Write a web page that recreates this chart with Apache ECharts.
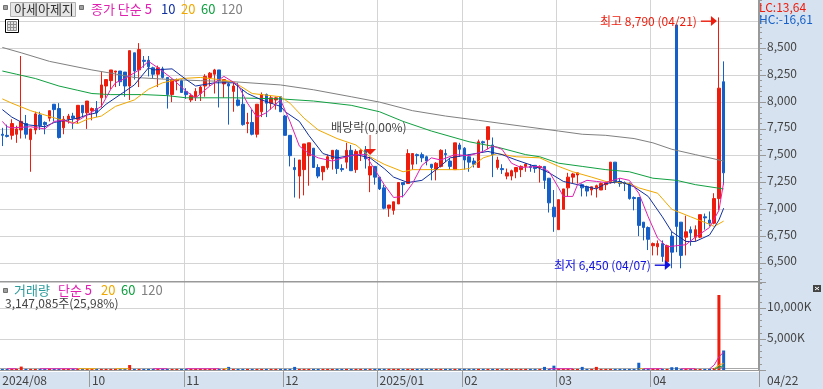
<!DOCTYPE html>
<html><head><meta charset="utf-8">
<style>html,body{margin:0;padding:0;background:#fff}#c{width:823px;height:389px}</style>
<script src="https://cdn.jsdelivr.net/npm/echarts@6/dist/echarts.min.js"></script>
</head><body><div id="c"></div>
<script>
// [open, close, low, high]
const ohlc = [
[7700,7690,7590,7760],[7690,7680,7670,7790],[7690,7800,7650,7840],[7700,7750,7620,7780],[7740,7820,7660,8430],
[7800,7700,7660,7880],[7650,7750,7350,7750],[7740,7890,7700,7910],[7880,7780,7740,7910],[7810,7790,7700,7820],
[7850,7920,7820,7920],[7980,7930,7820,7980],[7940,7670,7660,7990],[7760,7840,7700,7870],[7840,7870,7800,7890],
[7870,7850,7750,7900],[7840,7970,7800,7970],[7970,7900,7860,7970],[7900,8010,7750,8010],[7920,7940,7830,7950],
[7940,7900,7860,8010],[8040,8160,7950,8280],[8150,8210,8040,8210],[8200,8300,8120,8300],[8280,8290,8140,8290],
[8290,8190,8150,8290],[8280,8150,8050,8280],[8150,8480,8020,8480],[8460,8290,8210,8460],[8300,8490,8140,8550],
[8390,8380,8320,8430],[8390,8330,8240,8430],[8320,8260,8220,8330],[8260,8320,8140,8340],[8310,8230,8220,8330],
[8230,8070,7940,8230],[8070,8210,8000,8220],[8200,8210,8110,8220],[8200,8090,8090,8210],[8100,8070,8030,8130],
[8020,8060,8000,8080],[8050,8100,8010,8130],[8080,8140,8010,8150],[8150,8240,8050,8260],[8230,8270,8150,8280],
[8260,8300,8080,8310],[8300,8200,7950,8300],[8170,8210,8040,8210],[8170,8150,7790,8180],[8100,8150,7910,8180],
[8020,7970,7960,8180],[7980,7790,7780,8120],[7800,7810,7710,7900],[7810,7700,7690,7930],[7700,7980,7670,7980],
[7910,8070,7860,8090],[8070,7990,7860,8080],[7990,8040,7930,8060],[8020,8040,7930,8050],[8050,7910,7910,8050],
[7870,7690,7690,7880],[7690,7500,7400,7690],[7390,7370,7110,7480],[7310,7460,7100,7460],[7370,7610,7130,7610],
[7500,7620,7220,7620],[7570,7390,7390,7570],[7390,7310,7290,7420],[7350,7400,7270,7400],[7390,7490,7370,7510],
[7470,7550,7370,7550],[7550,7380,7330,7560],[7380,7370,7350,7420],[7440,7550,7380,7620],[7550,7360,7360,7600],
[7370,7540,7340,7560],[7520,7550,7450,7560],[7550,7470,7380,7590],[7320,7400,7160,7490],[7400,7300,7230,7400],
[7300,7190,7180,7300],[7200,7010,7000,7230],[7010,7040,6930,7040],[6990,7070,6950,7070],[7050,7250,7050,7250],
[7250,7230,7110,7250],[7240,7520,7240,7560],[7420,7520,7370,7520],[7510,7500,7420,7520],[7510,7480,7440,7530],
[7490,7450,7410,7500],[7420,7390,7270,7420],[7370,7430,7270,7440],[7400,7550,7390,7560],[7520,7510,7440,7560],
[7450,7400,7370,7480],[7370,7620,7370,7620],[7600,7560,7490,7620],[7570,7460,7370,7580],[7490,7440,7350,7510],
[7450,7420,7390,7480],[7390,7630,7390,7650],[7630,7620,7530,7640],[7650,7770,7560,7770],[7600,7510,7300,7670],
[7390,7460,7370,7490],[7380,7370,7330,7420],[7310,7340,7280,7380],[7310,7360,7270,7370],[7350,7390,7290,7390],
[7370,7400,7300,7410],[7400,7420,7350,7430],[7400,7390,7350,7420],[7410,7380,7340,7410],[7390,7400,7250,7410],
[7400,7270,7190,7400],[7290,7060,6970,7290],[7020,6930,6790,7180],[6810,7090,6810,7090],[7000,7190,7000,7190],
[7200,7300,7120,7340],[7300,7330,7240,7340],[7320,7340,7240,7340],[7230,7200,7120,7240],[7210,7170,7120,7220],
[7180,7210,7130,7210],[7200,7220,7110,7230],[7180,7240,7180,7250],[7230,7250,7180,7260],[7250,7440,7240,7440],
[7440,7260,7240,7440],[7260,7240,7210,7290],[7250,7240,7170,7260],[7240,7100,7090,7250],[7110,7100,6990,7120],
[7110,6850,6750,7110],[6880,6830,6710,6880],[6830,6720,6620,6840],[6660,6680,6570,6690],[6650,6680,6570,6710],
[6680,6560,6510,6710],[6510,6660,6460,6670],[6750,6600,6450,6790],[8720,6840,6600,8720],[6880,6570,6450,6880],
[6740,6790,6570,6940],[6810,6780,6660,6840],[6740,6810,6700,6850],[6740,6950,6730,6950],[6930,6920,6810,6960],
[6900,6870,6840,6980],[6870,7100,6860,7150],[7100,8130,6990,8790],[8190,7340,7230,8380]
];
// moving averages: [candle index, price]
const ma5 = [[0,7820],[1,7770],[2,7760],[6,7770],[9,7750],[11,7820],[13,7830],[15,7800],[18,7880],[21,7960],[23,8120],[24,8180],[26,8220],[29,8300],[31,8380],[33,8320],[36,8220],[39,8100],[41,8040],[44,8150],[47,8240],[50,8160],[52,7990],[54,7860],[56,7900],[59,8020],[61,7820],[63,7590],[65,7520],[67,7480],[70,7450],[73,7490],[75,7510],[77,7510],[79,7370],[81,7230],[83,7110],[85,7120],[87,7240],[89,7410],[91,7480],[93,7460],[96,7510],[99,7500],[102,7540],[104,7590],[106,7560],[108,7430],[110,7390],[114,7400],[116,7350],[118,7200],[119,7120],[121,7120],[122,7230],[124,7270],[126,7260],[128,7250],[131,7290],[133,7270],[135,7150],[137,6930],[139,6730],[141,6650],[145,6670],[147,6740],[150,6830],[152,6990],[153,7250]];
const ma10 = [[0,7930],[2,7860],[5,7790],[9,7770],[11,7810],[16,7850],[18,7880],[20,7900],[22,7980],[26,8100],[28,8160],[31,8320],[32,8300],[36,8310],[39,8210],[41,8150],[45,8180],[49,8180],[52,8080],[55,8020],[59,7960],[60,7910],[63,7820],[65,7690],[68,7520],[71,7480],[75,7510],[78,7480],[81,7380],[83,7300],[86,7250],[89,7270],[92,7370],[95,7480],[99,7510],[103,7540],[106,7510],[109,7460],[113,7400],[114,7380],[116,7340],[119,7260],[121,7240],[123,7220],[126,7190],[128,7240],[131,7260],[134,7210],[137,7120],[140,6930],[142,6790],[145,6700],[147,6700],[150,6760],[152,6900],[153,7010]];
const ma20 = [[0,8030],[2,7990],[6,7920],[9,7880],[12,7840],[14,7820],[16,7800],[18,7840],[21,7870],[24,7960],[28,8020],[31,8120],[34,8180],[38,8220],[42,8230],[46,8210],[49,8190],[53,8080],[59,8050],[61,7990],[64,7850],[67,7740],[71,7660],[75,7600],[78,7490],[81,7420],[85,7350],[87,7370],[92,7370],[97,7370],[99,7380],[102,7480],[105,7520],[109,7490],[114,7480],[118,7400],[121,7350],[125,7300],[128,7260],[133,7240],[135,7200],[139,7150],[142,7000],[146,6930],[150,6860],[151,6840],[153,6890]];
const ma60 = [[0,8290],[3,8260],[7,8220],[12,8150],[16,8110],[19,8080],[23,8070],[30,8070],[35,8060],[39,8040],[49,8040],[59,8030],[66,8010],[74,7970],[80,7910],[85,7820],[91,7730],[99,7630],[105,7580],[111,7510],[114,7490],[118,7430],[123,7400],[128,7370],[133,7350],[138,7290],[143,7270],[147,7230],[153,7190]];
const ma120 = [[0,8510],[4,8460],[10,8380],[19,8300],[23,8270],[28,8230],[36,8210],[42,8200],[49,8190],[59,8160],[66,8115],[74,8050],[80,8000],[87,7920],[94,7870],[101,7830],[106,7800],[118,7730],[123,7700],[128,7690],[134,7660],[138,7620],[142,7560],[147,7510],[153,7450]];
// volume in thousands of shares; the smallest bars are only a pixel tall in the picture
const volume = [
170,170,170,170,550,170,170,170,170,170,170,170,170,170,170,170,170,170,170,170,
170,170,170,170,170,170,170,800,170,170,170,170,170,170,170,170,170,170,170,170,
170,170,170,170,170,170,170,170,500,170,170,170,170,170,170,170,170,170,170,170,
170,170,500,170,170,170,170,170,170,170,170,170,170,170,170,170,170,170,170,170,
170,170,170,170,170,170,170,170,170,170,170,170,170,170,170,170,170,170,170,170,
170,170,170,170,170,170,170,170,170,170,170,170,170,170,170,500,170,700,170,170,
170,170,170,500,170,170,500,170,170,170,170,170,170,170,170,1170,170,170,170,170,
170,170,450,450,170,170,170,170,170,170,170,300,12100,3147];
// volume averages: only the stretches that show above the bars
const volMa5 = [[1,200],[3,200],[4,null],[8,200],[16,200],[17,null],[32,200],[35,200],[36,null],[39,200],[46,200],[47,null],[116,200],[121,200],[122,null],[136,200],[140,200],[141,null],[144,200],[147,200],[148,null],[150,180],[151,800],[152,2130],[153,2880]];
const volMa20 = [[16,200],[20,200],[21,null],[24,200],[27,200],[28,null],[47,200],[48,200],[49,null],[135,200],[136,200],[137,null],[145,210],[146,210],[147,null],[151,240],[152,790],[153,1070]];
const volMa60 = [[151,200],[152,500],[153,690]];
const volMa120 = [[151,190],[152,300],[153,450]];
// x axis: band index -> label
const monthIndex = [0,19,39,60,80,98,118,138];
const monthLabel = ['2024/08','10','11','12','2025/01','02','03','04'];
const priceLabels = [6500,6750,7000,7250,7500,7750,8000,8250,8500];
const volumeLabels = [5000,10000];
const bandCount = 161;

const RED='#ee1c0c',BLUE='#1560c8',MAG='#e020b0',NAVY='#1030a0',ORG='#f0a800',GRN='#10a040',GRY='#808080';
const FONT='"Noto Sans CJK KR"';
const cats = Array.from({length:bandCount},(_,i)=>String(i));
const isMonth = i=>monthIndex.indexOf(i)>=0;
const isSep = i=>i>0&&isMonth(i);
const comma = v=>String(v).replace(/\B(?=(\d{3})+$)/g,',');
const richLabel = {a:{color:'#444',fontSize:12,fontFamily:FONT,padding:[0,0,4,0]}};

function xAxisCfg(grid,extra){return Object.assign({type:'category',gridIndex:grid,data:cats,boundaryGap:true,
  axisLine:{show:false},axisTick:{show:false},axisLabel:{show:false},
  splitLine:{show:true,interval:(i)=>isSep(i),lineStyle:{color:'#d4d4d4',width:1},showMinLine:false,showMaxLine:false}},extra||{});}
function line(name,data,color,x,y,z){return {name,type:'line',data,xAxisIndex:x,yAxisIndex:y,showSymbol:false,symbol:'none',
  lineStyle:{color,width:1},itemStyle:{color},z:z||3,animation:false,clip:false,silent:true};}

const option={animation:false,backgroundColor:'#fff',
 grid:[{left:0,top:-5.1,width:759,height:294.8,outerBoundsMode:'none'},{left:0,top:282,width:759,height:88,outerBoundsMode:'none'}],
 xAxis:[xAxisCfg(0),xAxisCfg(1,{offset:2,axisLine:{show:true,lineStyle:{color:'#999',width:1}},
   axisTick:{show:true,interval:(i)=>isSep(i),length:17,lineStyle:{color:'#999',width:1}},
   axisLabel:{show:true,interval:(i)=>isMonth(i),margin:2,align:'left',color:'#444',fontSize:12,fontFamily:FONT,
     formatter:(v,i)=>monthLabel[monthIndex.indexOf(+v)]||''}})],
 yAxis:[
  {type:'value',gridIndex:0,position:'right',min:6250,max:9000,interval:250,z:0,
   axisLine:{show:true,lineStyle:{color:'#999',width:2}},
   axisTick:{show:true,length:7,lineStyle:{color:'#999'}},
   minorTick:{show:true,splitNumber:5,length:3,lineStyle:{color:'#999'}},
   axisLabel:{show:true,margin:8,rich:richLabel,customValues:priceLabels,formatter:v=>'{a|'+comma(v)+'}'},
   splitLine:{show:true,showMinLine:false,showMaxLine:false,lineStyle:{color:'#d4d4d4',width:1}}},
  {type:'value',gridIndex:1,position:'right',min:0,max:14200,interval:5000,z:3,
   axisLine:{show:true,lineStyle:{color:'#999',width:2}},
   axisTick:{show:true,length:7,lineStyle:{color:'#999'}},
   minorTick:{show:true,splitNumber:5,length:3,lineStyle:{color:'#999'}},
   axisLabel:{show:true,margin:8,rich:richLabel,customValues:volumeLabels,formatter:v=>'{a|'+comma(v)+'K}'},
   splitLine:{show:true,showMinLine:false,showMaxLine:false,lineStyle:{color:'#d4d4d4',width:1}}}
 ],
 series:[
  {name:'price',type:'candlestick',data:ohlc,xAxisIndex:0,yAxisIndex:0,barWidth:3,z:2,clip:false,silent:true,
   itemStyle:{color:RED,color0:BLUE,borderColor:RED,borderColor0:BLUE,borderWidth:1}},
  line('MA120',ma120,GRY,0,0),line('MA60',ma60,GRN,0,0),line('MA20',ma20,ORG,0,0),line('MA10',ma10,NAVY,0,0),line('MA5',ma5,MAG,0,0),
  {name:'volume',type:'bar',data:volume.map((v,i)=>({value:v,itemStyle:{color:ohlc[i][1]>=ohlc[i][0]?RED:BLUE}})),
   xAxisIndex:1,yAxisIndex:1,barWidth:3,z:4,silent:true},
  line('vMA120',volMa120,GRY,1,1,5),line('vMA60',volMa60,GRN,1,1,5),line('vMA20',volMa20,ORG,1,1,5),line('vMA5',volMa5,MAG,1,1,5)
 ]};

const chart=echarts.init(document.getElementById('c'),null,{renderer:'canvas'});
chart.setOption(option);

function txt(x,y,text,fill,size,align){return {type:'text',z:20,silent:true,style:{x,y,text,fill,font:(size||12)+'px '+FONT,verticalAlign:'middle',align:align||'left'}};}
function rect(x,y,w,h,fill,z,stroke){return {type:'rect',z:z==null?20:z,silent:true,shape:{x,y,width:w,height:h},style:{fill,stroke:stroke||null,lineWidth:1}};}
function seg(x1,y1,x2,y2,c){return {type:'line',z:21,silent:true,shape:{x1,y1,x2,y2},style:{stroke:c,lineWidth:1}};}
function arrow(tipX,y,color){return [
  rect(tipX-16,y-0.5,12,1.4,color),
  {type:'polygon',z:20,silent:true,shape:{points:[[tipX,y],[tipX-6,y-5],[tipX-6,y+5]]},style:{fill:color}}];}
const hi=chart.convertToPixel({gridIndex:0},[152,8790]);
const lo=chart.convertToPixel({gridIndex:0},[142,6450]);
const dv=chart.convertToPixel({gridIndex:0},[78,7500]);
const graphic=[
 rect(759,0,64,389,'#d6e2f0',-5),
 rect(0,372,823,17,'#d6e2f0',-5),
 rect(760,282,63,90,'#d6e2f0',1),
 rect(0,281,759,1.6,'#999'),
 rect(0,368,759,1,'#a8a8a8',1),
 // header
 rect(3.5,5.5,4,4,'#a0a0a0',20,'#707070'),
 rect(10.5,2.5,65,14,'#e6e6e6',20,'#b0b0b0'),
 txt(14,9,'아세아제지','#333',13),
 rect(79.5,5.5,4,4,'#a0a0a0',20,'#707070'),
 txt(91,9,'종가 단순 5',MAG,13),txt(161,9,'10',NAVY,13),txt(181,9,'20',ORG,13),txt(201,9,'60',GRN,13),txt(221,9,'120',GRY,13),
 rect(5.5,19.5,13,13,'#fff',20,'#000'),
 rect(7.5,21.5,9,9,'#e0e0e0',20,'#909090'),
 rect(10.5,21.5,3,9,'none',20,'#909090'),
 rect(7.5,24.5,9,3,'none',20,'#909090'),
 // right panel texts
 txt(759,7,'LC:13,64',RED,12),txt(759,19,'HC:-16,61',BLUE,12),
 txt(767,380,'04/22','#444'),
 rect(813,285,8,7,'#444'),seg(815,287,819,290,'#fff'),seg(815,290,819,287,'#fff'),
 // annotations
 txt(hi[0]-22,21,'최고 8,790 (04/21)',RED,12,'right'),
 ...arrow(hi[0]-2,21,RED),
 txt(lo[0]-21,265,'최저 6,450 (04/07)','#1010e0',12,'right'),
 ...arrow(lo[0]-1,265,'#1010e0'),
 txt(dv[0]-39,127,'배당락(0,00%)','#444'),
 rect(dv[0]-0.5,135,1,15,RED),
 {type:'polygon',z:20,silent:true,shape:{points:[[dv[0]-6,149],[dv[0]+6,149],[dv[0],155]]},style:{fill:RED}},
 // volume legend
 rect(3.5,288.5,4,4,'#a0a0a0',20,'#707070'),
 txt(14,290,'거래량','#2a9a9a',13),txt(58,290,'단순 5',MAG,13),txt(101,290,'20',ORG,13),txt(121,290,'60',GRN,13),txt(141,290,'120',GRY,13),
 txt(5,303,'3,147,085주(25,98%)','#444')
];
chart.setOption({graphic});
</script></body></html>
